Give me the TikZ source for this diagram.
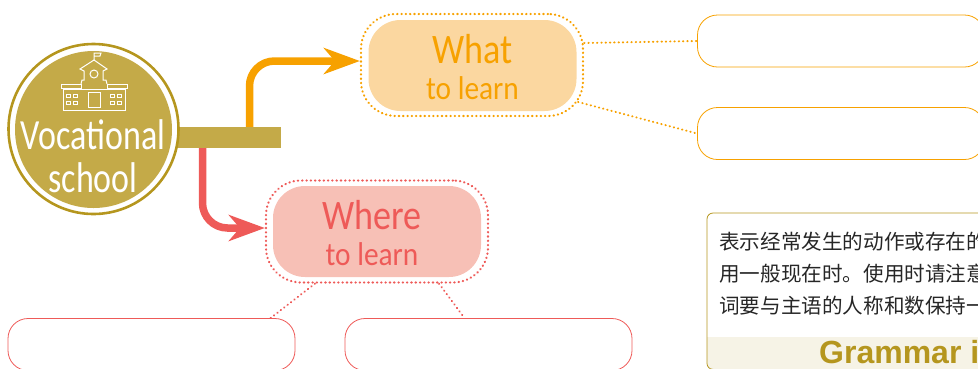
\documentclass[tikz,border=0pt]{standalone}
\usepackage{fontspec}
\setmainfont{Carlito}
\newfontfamily\cjkfont{Noto Sans CJK SC}
\newfontfamily\headfont{Liberation Sans}
\newfontfamily\schoolfont[FakeStretch=0.79]{Carlito}
\newfontfamily\bigfont[FakeStretch=0.86]{Carlito}
\newfontfamily\smallfont[FakeStretch=0.89]{Carlito}
\usetikzlibrary{arrows.meta}
\definecolor{goldfill}{HTML}{C4AA48}
\definecolor{goldline}{HTML}{B5961E}
\definecolor{whatcol}{HTML}{F7A100}
\definecolor{whatfill}{HTML}{FBD7A0}
\definecolor{wherecol}{HTML}{EE5A58}
\definecolor{wherefill}{HTML}{F7C0B6}
\definecolor{stripfill}{HTML}{F6F3E6}
\tikzstyle{ring} = [rectangle, rounded corners=35pt, minimum width=222pt, minimum height=102pt, inner sep=0pt, line width=2.2pt, dash pattern=on 0.4pt off 3.9pt, line cap=round]
\tikzstyle{core} = [rectangle, rounded corners=32pt, minimum width=208pt, minimum height=91pt, inner sep=0pt]
\tikzstyle{coretext} = [inner sep=0pt, align=center, font=\bigfont\fontsize{42}{42}\selectfont]
\tikzstyle{blank} = [rectangle, rounded corners=20pt, minimum width=287pt, minimum height=52pt, inner sep=0pt, line width=0.8pt]
\tikzstyle{link} = [line width=2pt, dash pattern=on 0.4pt off 3.9pt, line cap=round]
\tikzstyle{arrow} = [line width=7.5pt, rounded corners=25pt, -{Stealth[length=36pt, width=26pt, inset=11pt]}]
\tikzstyle{icon} = [white, line width=1pt]
\begin{document}
\begin{tikzpicture}[x=1pt, y=-1pt]
			\path [use as bounding box] (0,0) rectangle (978,368);
			\clip (0,0) rectangle (978,368);
			
			\node (grambox) [rectangle, anchor=north west, minimum width=300pt, minimum height=156pt, inner sep=0pt] at (707,213) {};
			\fill [stripfill] (707,337) [rounded corners=6pt] -- (707,369) -- (1007,369) [sharp corners] -- (1007,337) -- cycle;
			\draw [goldline, line width=0.8pt, rounded corners=6pt] (grambox.south west) rectangle (grambox.north east);
			\node (gramtext) [anchor=north west, inner sep=0pt, align=left, text=black!85, font=\cjkfont\fontsize{20.6}{32}\selectfont] at (719,232) {表示经常发生的动作或存在的\\用一般现在时。使用时请注意\\词要与主语的人称和数保持一};
			\node (gramhead) [anchor=base west, inner sep=0pt, text=goldline, font=\headfont\bfseries\fontsize{32}{32}\selectfont] at (819,363) {Grammar i};
			
			\node (bar) [rectangle, fill=goldfill, minimum width=104pt, minimum height=21pt, inner sep=0pt] at (229,137.5) {};
			\node (schoolring) [circle, draw=goldline, fill=white, line width=2.6pt, minimum size=170pt, inner sep=0pt] at (93.5,129) {};
			\node (school) [circle, fill=goldfill, minimum size=157pt, inner sep=0pt] at (93.5,129.5) {};
			\node (schooltext) [anchor=base, inner sep=0pt, align=center, text=white, font=\schoolfont\fontsize{43}{43}\selectfont] at (93,192) {Vocational\\school};
			
			\draw [icon] (63,89) rectangle (125,110);
			\draw [icon] (61,84) rectangle (81,88);
			\draw [icon] (107,84) rectangle (127,88);
			\draw [icon] (81,84) -- (82,80) -- (84,80) -- (84,71) -- (80,69) -- (94,60) -- (107,69) -- (103,71) -- (103,80) -- (106,80) -- (107,84);
			\draw [icon] (94,74) circle (4);
			\draw [icon] (94,60) -- (94,53) -- (101,53) -- (100,56) -- (94,56);
			\draw [icon] (88,107) -- (88,92) -- (100,92) -- (100,107) -- cycle;
			\foreach \winx in {66,73,110,117}
				\foreach \winy in {94,101}
					\draw [icon] (\winx,\winy) rectangle (\winx+4.5,\winy+3.5);
			
			\node (whatring) [ring, draw=whatcol] at (472,65) {};
			\node (what) [core, fill=whatfill] at (472.5,65.5) {};
			\node (whattext) [coretext, text=whatcol] at ([yshift=-2pt]what.center) {What\\[-6pt]{\smallfont\fontsize{33}{33}\selectfont to learn}};
			\node (wherering) [ring, draw=wherecol] at (377,231.5) {};
			\node (where) [core, fill=wherefill] at (377,231.5) {};
			\node (wheretext) [coretext, text=wherecol] at ([xshift=-5pt,yshift=-2pt]where.center) {Where\\[-6pt]{\smallfont\fontsize{33}{33}\selectfont to learn}};
			
			\node (topbox) [blank, draw=whatcol] at (841,41) {};
			\node (midbox) [blank, draw=whatcol] at (841,133.5) {};
			\node (leftbox) [blank, draw=wherecol] at (151.5,344.5) {};
			\node (rightbox) [blank, draw=wherecol] at (488.5,344.5) {};
			
			\draw [arrow, whatcol] ([xshift=20.5pt]bar.north) |- ([yshift=4pt]whatring.west);
			\draw [arrow, wherecol] ([xshift=-26.5pt]bar.south) |- ([yshift=3.5pt]wherering.west);
			\draw [link, whatcol] ([yshift=22pt]whatring.east) -- (topbox.west);
			\draw [link, whatcol] ([xshift=-6pt,yshift=-37pt]whatring.east) -- (midbox.west);
			\draw [link, wherecol] ([xshift=-62pt]wherering.south) -- ([xshift=119pt]leftbox.north);
			\draw [link, wherecol] ([xshift=62pt]wherering.south) -- ([xshift=-24pt]rightbox.north);
			\end{tikzpicture}
\end{document}
